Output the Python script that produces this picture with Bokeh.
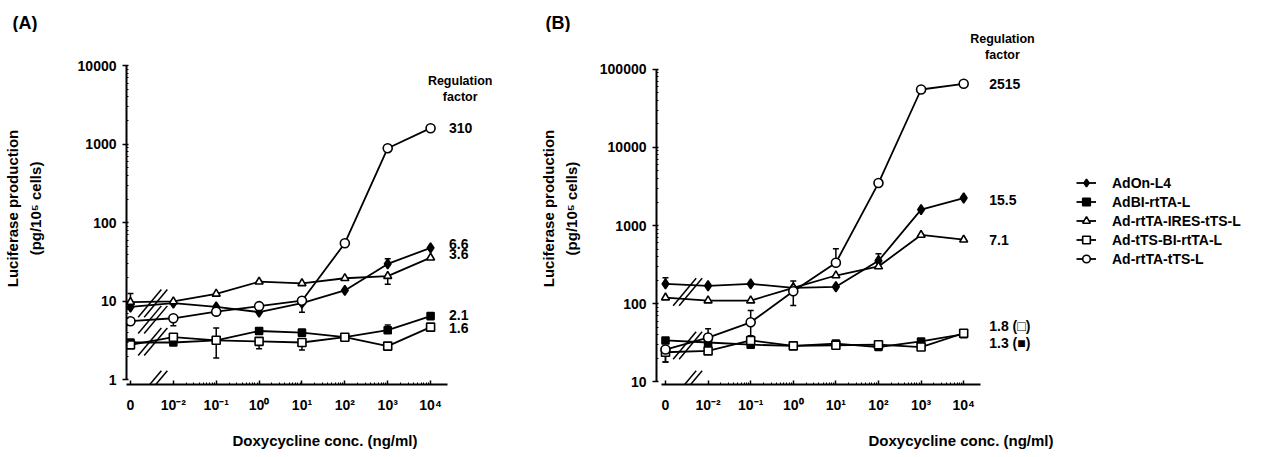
import math
from bokeh.plotting import figure
from bokeh.models import (FixedTicker, Range1d, Label, Arrow, Whisker, TeeHead,
                          Legend, LegendItem, PrintfTickFormatter, ColumnDataSource)
from bokeh.layouts import row, column
from bokeh.embed import file_html
from bokeh.resources import INLINE

FONT = "Liberation Sans"

# ---------------- data ----------------
doses = ["0", "10⁻²", "10⁻¹", "10⁰", "10¹", "10²", "10³", "10⁴"]
series = ["AdOn-L4", "AdBI-rtTA-L", "Ad-rtTA-IRES-tTS-L", "Ad-tTS-BI-rtTA-L", "Ad-rtTA-tTS-L"]

# Panel A
a_on = [8.5, 9.5, 8.5, 7.3, 9.5, 13.8, 30, 48]
a_bi = [3.0, 3.0, 3.2, 4.2, 4.0, 3.5, 4.3, 6.5]
a_ires = [9.8, 10.0, 12.5, 17.8, 17.0, 19.7, 21, 36]
a_tts_bi = [2.8, 3.5, 3.2, 3.1, 3.0, 3.5, 2.7, 4.7]
a_rtta_tts = [5.6, 6.1, 7.4, 8.7, 10.2, 55, 890, 1600]
a_factors = ["6.6", "2.1", "3.6", "1.6", "310"]
# (series index, dose index, error-bar end)
a_err_up = [(2, 0, 12.6), (3, 2, 4.6), (1, 6, 5.0), (0, 6, 35)]
a_err_dn = [(4, 1, 4.9), (4, 4, 7.3), (3, 2, 1.9), (3, 3, 2.5), (3, 4, 2.4), (2, 6, 16.5)]

# Panel B
b_on = [180, 170, 180, 160, 165, 355, 1600, 2250]
b_bi = [34, 32, 30, 29, 31, 28, 33, 41]
b_ires = [120, 110, 110, 160, 230, 300, 760, 660]
b_tts_bi = [24, 25, 34, 29, 29.5, 30, 28, 42]
b_rtta_tts = [26, 37, 58, 145, 335, 3500, 55000, 65000]
b_factors = ["15.5", "1.3 (■)", "7.1", "1.8 (□)", "2515"]
b_err_up = [(0, 0, 215), (4, 1, 48), (4, 2, 82), (4, 3, 195), (4, 4, 505), (0, 5, 435)]
b_err_dn = [(4, 0, 18), (3, 0, 18), (4, 2, 39), (4, 3, 95)]

styles = [
    dict(marker="diamond", size=10, fill_color="black"),
    dict(marker="square", size=7, fill_color="black"),
    dict(marker="triangle", size=8, fill_color="white"),
    dict(marker="square", size=8, fill_color="white"),
    dict(marker="circle", size=9, fill_color="white"),
]

Y_LABEL = "Luciferase production\n(pg/10⁵ cells)"


def label(p, x, y, text, size="14px", align="left", y_off=0):
    p.add_layout(Label(x=x, y=y, text=text, text_font=FONT, text_font_size=size,
                       text_font_style="bold", text_align=align, text_baseline="middle",
                       y_offset=y_off, text_color="black"))


def make_panel(values, width, left, right, x_rng, y_rng, y_ticks, break_groups,
               err_up, err_dn, ylab_standoff):
    p = figure(width=width, height=423, x_range=Range1d(*x_rng), y_range=Range1d(*y_rng),
               y_axis_type="log", output_backend="svg", toolbar_location=None,
               min_border_left=left, min_border_right=right, min_border_top=0,
               min_border_bottom=71)
    p.outline_line_color = None
    p.xgrid.visible = False
    p.ygrid.visible = False
    p.background_fill_color = "white"

    xa = p.xaxis[0]
    xa.ticker = FixedTicker(ticks=list(range(len(doses))),
                            minor_ticks=[k + math.log10(m) for k in range(1, 7) for m in range(2, 10)])
    xa.major_label_overrides = {i: lab for i, lab in enumerate(doses)}
    xa.bounds = (-0.1, 7.4)
    xa.axis_label = "Doxycycline conc. (ng/ml)"
    xa.axis_label_standoff = 16
    xa.major_label_standoff = 12
    xa.major_tick_in = 4
    xa.major_tick_out = 0
    xa.minor_tick_in = 2
    xa.minor_tick_out = 0

    ya = p.yaxis[0]
    ya.ticker = FixedTicker(ticks=y_ticks,
                            minor_ticks=[m * t for t in y_ticks[:-1] for m in range(2, 10)])
    ya.formatter = PrintfTickFormatter(format="%d")
    ya.bounds = (y_ticks[0], y_ticks[-1])
    ya.major_tick_out = 4
    ya.major_tick_in = 2
    ya.minor_tick_in = 2
    ya.minor_tick_out = 0
    ya.major_label_standoff = 6
    ya.axis_label = Y_LABEL
    ya.axis_label_standoff = ylab_standoff
    ya.axis_label_text_line_height = 1.35

    for ax in (xa, ya):
        ax.axis_line_width = 2
        ax.axis_line_color = "black"
        ax.major_tick_line_width = 1.5
        ax.major_tick_line_color = "black"
        ax.minor_tick_line_color = "black"
        ax.major_label_text_font = FONT
        ax.major_label_text_font_size = "14px"
        ax.major_label_text_font_style = "bold"
        ax.major_label_text_color = "black"
        ax.axis_label_text_font = FONT
        ax.axis_label_text_font_size = "15px"
        ax.axis_label_text_font_style = "bold"
        ax.axis_label_text_color = "black"

    xs = list(range(len(doses)))
    items = []
    for vals, st, name in zip(values, styles, series):
        src = ColumnDataSource(dict(x=xs, y=vals))
        lr = p.line("x", "y", source=src, line_color="black", line_width=1.8)
        sr = p.scatter("x", "y", source=src, marker=st["marker"], size=st["size"],
                       fill_color=st["fill_color"], line_color="black", line_width=1.6)
        items.append(LegendItem(label=name, renderers=[lr, sr]))

    # error bars
    for errs, up in ((err_up, True), (err_dn, False)):
        if not errs:
            continue
        ex = [d for (_, d, _) in errs]
        ec = [values[s][d] for (s, d, _) in errs]
        ee = [e for (_, _, e) in errs]
        if up:
            src = ColumnDataSource(dict(x=ex, lo=ec, hi=ee))
            w = Whisker(source=src, base="x", lower="lo", upper="hi", line_width=1.5,
                        upper_head=TeeHead(size=6, line_width=1.5), lower_head=None,
                        level="underlay")
        else:
            src = ColumnDataSource(dict(x=ex, lo=ee, hi=ec))
            w = Whisker(source=src, base="x", lower="lo", upper="hi", line_width=1.5,
                        lower_head=TeeHead(size=6, line_width=1.5), upper_head=None,
                        level="underlay")
        p.add_layout(w)

    # axis-break marks between "0" and 10^-2
    levels = [y_rng[0]]
    for grp in break_groups:
        vv = [values[s][k] for s in grp for k in (0, 1)]
        levels.append(10 ** (sum(math.log10(v) for v in vv) / len(vv)))
    for lev in levels:
        for dx in (-0.07, 0.07):
            p.add_layout(Arrow(x_start=0.52 + dx - 0.27, y_start=lev / 1.5,
                               x_end=0.52 + dx + 0.27, y_end=lev * 1.5,
                               start=None, end=None, line_width=1.5, line_color="black",
                               level="overlay"))
    return p, items


pA, itemsA = make_panel([a_on, a_bi, a_ires, a_tts_bi, a_rtta_tts], 530, 123, 7,
                        (-0.0926, 9.167), (0.876, 26400), [1, 10, 100, 1000, 10000],
                        [[0, 2], [4], [1, 3]], a_err_up, a_err_dn, 31)
pB, itemsB = make_panel([b_on, b_bi, b_ires, b_tts_bi, b_rtta_tts], 745, 126, 10,
                        (-0.211, 14.085), (9.29, 294600), [10, 100, 1000, 10000, 100000],
                        [[0, 2], [1, 3, 4]], b_err_up, b_err_dn, 17)

# Panel A annotations (inside frame)
label(pA, 7.69, 6460, "Regulation", size="12.5px", align="center")
label(pA, 7.69, 4045, "factor", size="12.5px", align="center")
a_last = [a_on[-1], a_bi[-1], a_ires[-1], a_tts_bi[-1], a_rtta_tts[-1]]
a_off = [4, 1, 4, -1, 0]
for v, t, o in zip(a_last, a_factors, a_off):
    label(pA, 7.43, v, t, y_off=o)

# Panel B annotations (inside frame)
label(pB, 7.91, 239900, "Regulation", size="12.5px", align="center")
label(pB, 7.91, 149700, "factor", size="12.5px", align="center")
b_last = [b_on[-1], b_bi[-1], b_ires[-1], b_tts_bi[-1], b_rtta_tts[-1]]
b_off = [-2, -9, 0, 7, 0]
for v, t, o in zip(b_last, b_factors, b_off):
    label(pB, 7.6, v, t, y_off=o)

legend = Legend(items=itemsB, location=(420, 116), border_line_color=None,
                background_fill_alpha=0, label_text_font=FONT, label_text_font_size="14px",
                label_text_font_style="bold", label_text_color="black",
                glyph_width=20, glyph_height=19, label_height=19, spacing=0,
                padding=0, margin=0, label_standoff=16)
pB.add_layout(legend)

# Full-width header strip with the panel letters
strip = figure(width=1275, height=32, x_range=Range1d(0, 1275), y_range=Range1d(32, 0),
               output_backend="svg", toolbar_location=None, min_border=0,
               x_axis_location=None, y_axis_location=None)
strip.outline_line_color = None
strip.xgrid.visible = False
strip.ygrid.visible = False
label(strip, 12, 22, "(A)", size="18px")
label(strip, 545, 22, "(B)", size="18px")

layout = column(strip, row(pA, pB))
open("out.html", "w").write(file_html(layout, INLINE))
